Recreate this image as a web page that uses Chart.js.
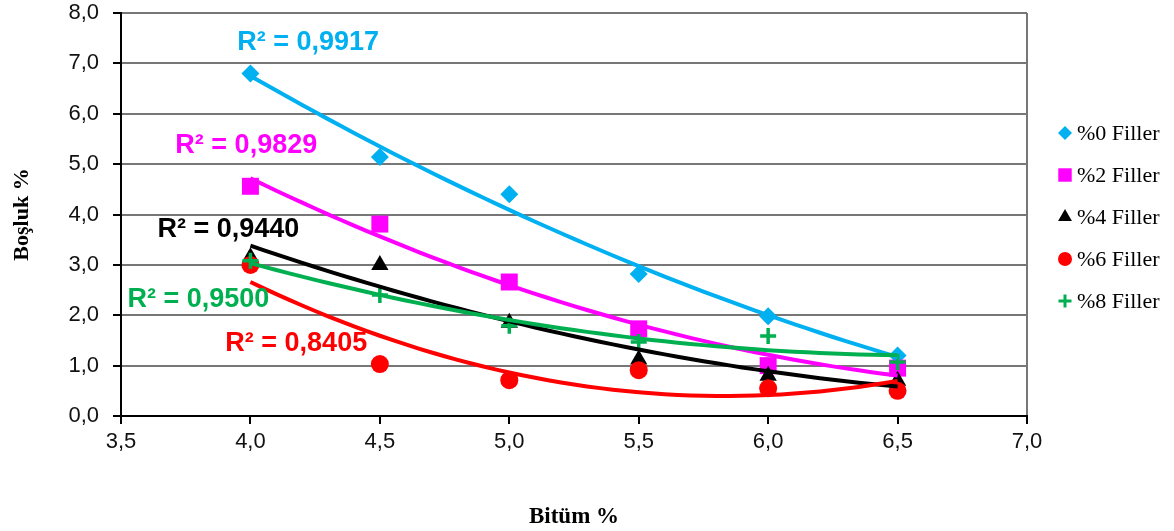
<!DOCTYPE html>
<html>
<head>
<meta charset="utf-8">
<script src="https://cdn.jsdelivr.net/npm/chart.js@4.4.1/dist/chart.umd.min.js"></script>
<style>
  html, body { margin: 0; padding: 0; background: #fff; overflow: hidden; }
  #wrap { width: 1174px; height: 531px; overflow: hidden; }
</style>
</head>
<body>
<div id="wrap"><canvas id="myChart" width="1174" height="548"></canvas></div>
<script>
// Bitüm % (x) and Boşluk % (y) per filler ratio
const bitumen = [4.0, 4.5, 5.0, 5.5, 6.0, 6.5]
const filler0 = [6.80, 5.14, 4.40, 2.82, 1.98, 1.20]
const filler2 = [4.56, 3.81, 2.66, 1.73, 1.00, 0.95]
const filler4 = [3.15, 3.00, 1.85, 1.12, 0.80, 0.70]
const filler6 = [3.00, 1.03, 0.71, 0.91, 0.55, 0.50]
const filler8 = [3.08, 2.40, 1.79, 1.47, 1.59, 1.07]

const seriesNames = ['%0 Filler', '%2 Filler', '%4 Filler', '%6 Filler', '%8 Filler']
const r2Labels = ['R² = 0,9917', 'R² = 0,9829', 'R² = 0,9440', 'R² = 0,8405', 'R² = 0,9500']

// where the R² texts sit (in axis units)
const r2At = [[3.949, 7.42], [3.710, 5.36], [3.641, 3.71], [3.903, 1.43], [3.525, 2.32]]

const colors = ['#00B0F0', '#FF00FF', '#000000', '#FF0000', '#00B050']
const styles = ['rectRot', 'rect', 'triangle', 'circle', 'cross']
const sizes = [9, 12, 10, 9, 8]
const legendSizes = [7, 9.5, 8, 7, 6.5]

const allSeries = [filler0, filler2, filler4, filler6, filler8]

// 2nd order polynomial trendline (least squares), like the spreadsheet did
function quadFit(xs, ys) {
  const s = [0, 0, 0, 0, 0], t = [0, 0, 0]
  xs.forEach((x, i) => {
    let p = 1
    for (let k = 0; k < 5; k++) {
      s[k] += p
      if (k < 3) t[k] += p * ys[i]
      p *= x
    }
  })
  const m = [[s[0], s[1], s[2], t[0]], [s[1], s[2], s[3], t[1]], [s[2], s[3], s[4], t[2]]]
  for (let i = 0; i < 3; i++) {
    for (let j = i + 1; j < 3; j++) {
      const f = m[j][i] / m[i][i]
      for (let k = i; k < 4; k++) m[j][k] -= f * m[i][k]
    }
  }
  const c = [0, 0, 0]
  for (let i = 2; i >= 0; i--) {
    let v = m[i][3]
    for (let k = i + 1; k < 3; k++) v -= m[i][k] * c[k]
    c[i] = v / m[i][i]
  }
  return c
}

function trendPoints(ys) {
  const c = quadFit(bitumen, ys)
  const pts = []
  const x0 = bitumen[0], x1 = bitumen[bitumen.length - 1]
  for (let i = 0; i <= 50; i++) {
    const x = x0 + (x1 - x0) * i / 50
    pts.push({ x: x, y: c[0] + c[1] * x + c[2] * x * x })
  }
  return pts
}

const markerSets = allSeries.map((ys, i) => ({
  label: seriesNames[i],
  data: ys.map((y, j) => ({ x: bitumen[j], y: y })),
  showLine: false,
  pointStyle: styles[i],
  pointRadius: sizes[i],
  pointBackgroundColor: colors[i],
  pointBorderColor: colors[i],
  pointBorderWidth: styles[i] === 'cross' ? 3.5 : 0,
  borderColor: colors[i],
  borderWidth: styles[i] === 'cross' ? 3.5 : 0,
  order: 10 - i
}))

const trendSets = allSeries.map((ys, i) => ({
  label: 'trend ' + seriesNames[i],
  data: trendPoints(ys),
  showLine: true,
  borderColor: colors[i],
  borderWidth: 4,
  pointRadius: 0,
  tension: 0,
  order: 5 - i
}))

const comma = v => Number(v).toFixed(1).replace('.', ',')

const r2Plugin = {
  id: 'r2Labels',
  afterDatasetsDraw(chart) {
    const { ctx, scales: { x, y } } = chart
    ctx.save()
    ctx.font = 'bold 27px "Liberation Sans", Arial'
    ctx.textBaseline = 'middle'
    ctx.textAlign = 'left'
    r2Labels.forEach((txt, i) => {
      ctx.fillStyle = colors[i]
      ctx.fillText(txt, x.getPixelForValue(r2At[i][0]), y.getPixelForValue(r2At[i][1]))
    })
    ctx.restore()
  }
}

const legendPlugin = {
  id: 'sideLegend',
  afterDraw(chart) {
    const ctx = chart.ctx
    const left = chart.chartArea.right + 38
    ctx.save()
    ctx.font = '22px "Liberation Serif", "Times New Roman"'
    ctx.textBaseline = 'middle'
    seriesNames.forEach((name, i) => {
      const yy = 133 + i * 42
      ctx.fillStyle = colors[i]
      ctx.strokeStyle = colors[i]
      ctx.lineWidth = 3
      Chart.helpers.drawPoint(ctx, {
        pointStyle: styles[i],
        radius: legendSizes[i],
        borderWidth: styles[i] === 'cross' ? 3 : 0,
        rotation: 0
      }, left, yy)
      ctx.fillStyle = '#000'
      ctx.fillText(name, left + 12, yy + 1)
    })
    ctx.restore()
  }
}

new Chart(document.getElementById('myChart').getContext('2d'), {
  type: 'scatter',
  data: { datasets: [...markerSets, ...trendSets] },
  options: {
    responsive: false,
    animation: false,
    devicePixelRatio: 1,
    layout: { padding: { top: 0, right: 147, left: 0, bottom: 0 } },
    plugins: {
      legend: { display: false },
      tooltip: { enabled: false }
    },
    scales: {
      x: {
        type: 'linear',
        min: 3.5,
        max: 7.0,
        ticks: {
          stepSize: 0.5,
          callback: comma,
          color: '#111',
          font: { family: '"Liberation Sans", Arial', size: 22 },
          padding: 5,
          maxRotation: 0
        },
        grid: {
          color: c => (c.index === 7 ? '#777' : 'rgba(0,0,0,0)'),
          lineWidth: 2,
          tickColor: '#000',
          tickLength: 8
        },
        border: { color: '#000', width: 2 },
        title: {
          display: true,
          text: 'Bitüm %',
          color: '#000',
          font: { family: '"Liberation Serif", "Times New Roman"', size: 23, weight: 'bold' },
          padding: { top: 0, bottom: 17 }
        },
        afterFit: s => { s.height = 548 - 416 }
      },
      y: {
        min: 0,
        max: 8,
        ticks: {
          stepSize: 1,
          callback: comma,
          color: '#111',
          font: { family: '"Liberation Sans", Arial', size: 22 },
          padding: 14
        },
        grid: {
          color: c => (c.index === 0 ? 'rgba(0,0,0,0)' : '#777'),
          lineWidth: 2,
          tickColor: '#000',
          tickLength: 8
        },
        border: { color: '#000', width: 2 },
        title: {
          display: true,
          text: 'Boşluk %',
          color: '#000',
          font: { family: '"Liberation Serif", "Times New Roman"', size: 22, weight: 'bold' },
          padding: { top: 9, bottom: 0 }
        },
        afterFit: s => {
          s.width = 121
          s.paddingTop = 13
          s.paddingBottom = 0
        }
      }
    }
  },
  plugins: [r2Plugin, legendPlugin]
})
</script>
</body>
</html>
